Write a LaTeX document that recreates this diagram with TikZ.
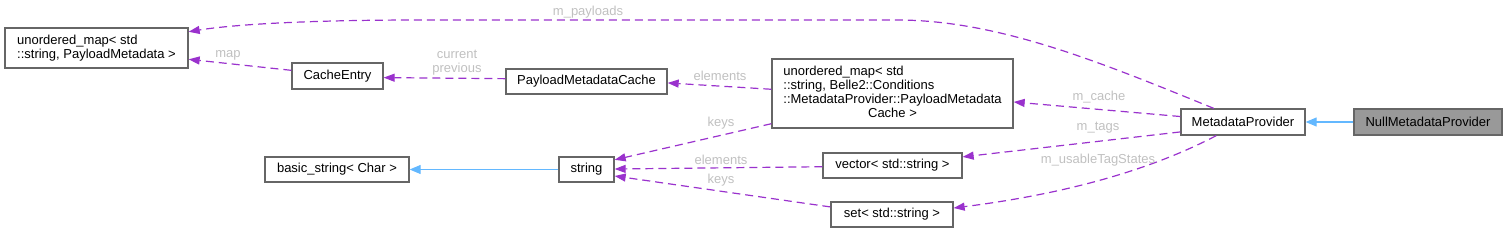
\documentclass[tikz,border=0pt]{standalone}
\usepackage{fontspec}
\setmainfont{Liberation Sans}
\usepackage{tikz}
\usetikzlibrary{arrows.meta,positioning}
\usepackage{xcolor}
\definecolor{orch}{HTML}{9A32CD}
\definecolor{skyb}{HTML}{63B8FF}
\definecolor{bord}{HTML}{666666}
\definecolor{lbgr}{HTML}{C0C0C0}
\definecolor{selb}{HTML}{999999}

\begin{document}
\begin{tikzpicture}[x=1pt,y=-1pt,
    cls/.style={draw=bord,line width=1.3pt,fill=white,inner sep=0pt,
      font=\fontsize{13}{14}\selectfont,align=left},
    lbl/.style={text=lbgr,inner sep=0pt,anchor=base,
      font=\fontsize{13}{13.3}\selectfont,align=center},
    usage/.style={orch,dash pattern=on 8pt off 5pt,line width=1.2pt,
      -{Triangle[length=11pt,width=8pt]}},
    inherit/.style={skyb,line width=1.2pt,
      -{Triangle[length=11pt,width=9pt]}}]
  \useasboundingbox (0,0) rectangle (1507,233);

  % classes
  \node[cls,minimum width=183pt,minimum height=40pt] (umA) at (96.5,48)
    {unordered\_map< std\\::string, PayloadMetadata >};
  \node[cls,minimum width=91pt,minimum height=26pt] (ce) at (337.5,76) {CacheEntry};
  \node[cls,minimum width=161pt,minimum height=25pt] (pmc) at (586.5,81.5) {PayloadMetadataCache};
  \node[cls,minimum width=144pt,minimum height=25pt] (bstr) at (337,169.5) {basic\_string< Char >};
  \node[cls,minimum width=55pt,minimum height=25pt] (str) at (586.5,169.5) {string};
  \node[cls,minimum width=241pt,minimum height=69pt] (umC) at (892.5,93.5)
    {\begin{tabular}{@{}l@{}}unordered\_map< std\\::string, Belle2::Conditions\\
     ::MetadataProvider::PayloadMetadata\\ \multicolumn{1}{@{}c@{}}{Cache >}\end{tabular}};
  \node[cls,minimum width=139pt,minimum height=25pt] (vec) at (892.5,165.5) {vector< std::string >};
  \node[cls,minimum width=122pt,minimum height=25pt] (setS) at (892,214.5) {set< std::string >};
  \node[cls,minimum width=124pt,minimum height=26pt] (mp) at (1243,122) {MetadataProvider};
  \node[cls,fill=selb,minimum width=148pt,minimum height=26pt] (nmp) at (1428,122) {NullMetadataProvider};

  % inheritance
  \draw[inherit] (str.west) -- (bstr.east);
  \draw[inherit] (nmp.west) -- (mp.east);

  % members
  \draw[usage] (mp.155) .. controls (1100,62) and (1000,21) .. (900,20)
    -- (420,20) .. controls (300,20) and (230,25) .. (umA.10);
  \draw[usage] (ce.173) -- (umA.-7);
  \draw[usage] (pmc.178) -- (ce.-2);
  \draw[usage] (umC.178) -- (pmc.-1);
  \draw[usage] (umC.194) -- (str.19);
  \draw[usage] (vec.181) -- (str.1);
  \draw[usage] (setS.173) -- (str.-13);
  \draw[usage] (mp.175) -- (umC.-4.5);
  \draw[usage] (mp.189) -- (vec.7);
  \draw[usage] (mp.207) .. controls (1160,165) and (1080,192) .. (setS.6);

  % labels
  \node[lbl] (lPay) at (588,15.5) {m\_payloads};
  \node[lbl] (lMap) at (228,57) {map};
  \node[lbl,anchor=center] (lCur) at (457,62.5) {current\\previous};
  \node[lbl] (lEl1) at (720,80.5) {elements};
  \node[lbl] (lKey1) at (721,126.5) {keys};
  \node[lbl] (lEl2) at (721,164.3) {elements};
  \node[lbl] (lKey2) at (721,183.3) {keys};
  \node[lbl] (lCache) at (1099,100.5) {m\_cache};
  \node[lbl] (lTags) at (1098,130) {m\_tags};
  \node[lbl] (lUse) at (1098,163.3) {m\_usableTagStates};
\end{tikzpicture}
\end{document}
